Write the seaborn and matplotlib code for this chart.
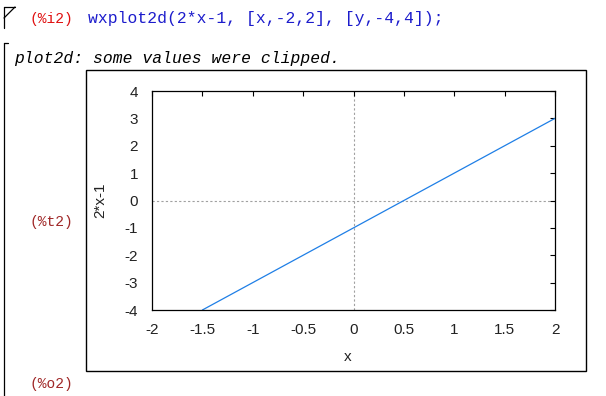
import matplotlib
matplotlib.use("Agg")
import matplotlib.pyplot as plt
import seaborn as sns
import pandas as pd
from matplotlib.patches import Rectangle
from matplotlib.lines import Line2D

# ---- data ----
x_vals = [-1.5, 2.0]
y_vals = [-4.0, 3.0]
x_ticks = [-2, -1.5, -1, -0.5, 0, 0.5, 1, 1.5, 2]
x_tick_labels = ["-2", "-1.5", "-1", "-0.5", "0", "0.5", "1", "1.5", "2"]
y_ticks = [-4, -3, -2, -1, 0, 1, 2, 3, 4]
y_tick_labels = ["-4", "-3", "-2", "-1", "0", "1", "2", "3", "4"]
x_label = "x"
y_label = "2*x-1"
input_label = "(%i2)"
input_code = "wxplot2d(2*x-1, [x,-2,2], [y,-4,4]);"
message = "plot2d: some values were clipped."
t_label = "(%t2)"
o_label = "(%o2)"

sns.set_style("white")
plt.rcParams["font.family"] = ["Liberation Sans", "DejaVu Sans"]

W, H = 606, 396
fig = plt.figure(figsize=(W / 100, H / 100), dpi=100)
fig.patch.set_facecolor("white")


def fx(x):
    return x / W


def fy(y):
    return 1 - y / H


# axes placement
L, R, T, B = 152, 555, 91, 310
ax = fig.add_axes([fx(L), fy(B), (R - L) / W, (B - T) / H])

df = pd.DataFrame({"x": x_vals, "y": y_vals})
sns.lineplot(data=df, x="x", y="y", ax=ax, color="#1f7fe6", linewidth=0.9)

ax.axhline(0, color="#a0a0a0", linewidth=0.8, linestyle=(0, (2, 2)), zorder=0)
ax.axvline(0, color="#a0a0a0", linewidth=0.8, linestyle=(0, (2, 2)), zorder=0)

ax.set_xlim(-2, 2)
ax.set_ylim(-4, 4)
ax.set_xticks(x_ticks)
ax.set_xticklabels(x_tick_labels)
ax.set_yticks(y_ticks)
ax.set_yticklabels(y_tick_labels)
ax.tick_params(direction="in", length=3.6, width=0.8, top=True, right=True,
               labelsize=11, colors="black", pad=9, labelcolor="#222222")
ax.tick_params(axis="y", pad=10)
for s in ax.spines.values():
    s.set_visible(True)
    s.set_color("black")
    s.set_linewidth(0.9)

ax.set_xlabel(x_label, fontsize=11, color="#222222")
ax.set_ylabel(y_label, fontsize=11, color="#222222")
ax.xaxis.set_label_coords((348 - L) / (R - L), -(357 - B) / (B - T), transform=ax.transAxes)
ax.yaxis.set_label_coords(-(L - 100) / (R - L), 0.5, transform=ax.transAxes)
ax.xaxis.label.set_va("center")
ax.yaxis.label.set_va("center")

# outer box
fig.patches.append(Rectangle((fx(86), fy(371)), (586 - 86) / W, (371 - 70) / H,
                             transform=fig.transFigure, fill=False,
                             edgecolor="black", linewidth=1.0))

# left brackets
def seg(x0, y0, x1, y1):
    fig.lines.append(Line2D([fx(x0), fx(x1)], [fy(y0), fy(y1)],
                            transform=fig.transFigure, color="black", linewidth=0.9))

seg(4, 7, 4, 28)
seg(4, 7, 15, 7)
seg(15, 7, 4, 18)
seg(4, 43, 4, 396)
seg(4, 43, 8, 43)

mono = ["Liberation Mono", "DejaVu Sans Mono"]
fig.text(fx(30), fy(19), input_label, family=mono, fontsize=10.5, color="#e01010",
         ha="left", va="center")
fig.text(fx(88), fy(19), input_code, family=mono, fontsize=11.8, color="#1c1ccc",
         ha="left", va="center")
fig.text(fx(14), fy(58), message, family=mono, fontsize=11.8, color="black",
         style="italic", ha="left", va="center")
fig.text(fx(30), fy(222), t_label, family=mono, fontsize=10.5, color="#a02828",
         ha="left", va="center")
fig.text(fx(30), fy(384), o_label, family=mono, fontsize=10.5, color="#a02828",
         ha="left", va="center")

fig.savefig("out.png", dpi=100)
